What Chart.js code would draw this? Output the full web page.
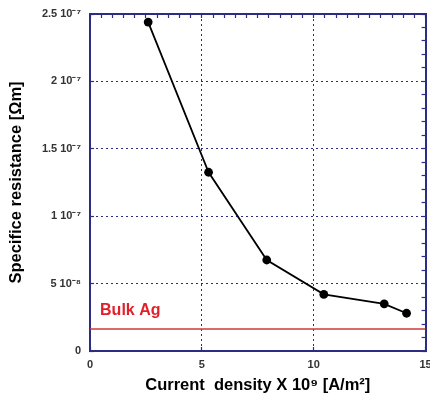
<!DOCTYPE html>
<html>
<head>
<meta charset="utf-8">
<script src="https://cdn.jsdelivr.net/npm/chart.js@4.4.1/dist/chart.umd.min.js"></script>
<style>
  html, body { margin: 0; padding: 0; background: #ffffff; }
  #wrap { width: 430px; height: 401px; }
</style>
</head>
<body>
<div id="wrap"><canvas id="c" width="430" height="401"></canvas></div>
<script>
// Data
const currentDensity = [2.6, 5.3, 7.9, 10.45, 13.15, 14.15];          // x 10^9 A/m^2
const resistance     = [2.44e-7, 1.326e-7, 6.75e-8, 4.2e-8, 3.5e-8, 2.8e-8]; // Ohm m
const bulkAgX = [0, 15];
const bulkAgY = [1.63e-8, 1.63e-8];
const bulkAgLabel = "Bulk Ag";
const xTickLabels = ["0", "5", "10", "15"];
const yTickLabels = ["0", "5 10\u207B\u2078", "1 10\u207B\u2077", "1.5 10\u207B\u2077", "2 10\u207B\u2077", "2.5 10\u207B\u2077"];
const xTitle = "Current  density X 10\u2079 [A/m\u00B2]";
const yTitle = "Specifice resistance [\u03A9m]";

const NAVY = "#2c2c84";
const TICKFONT = { family: '"Liberation Sans Narrow", "Liberation Sans", Arial, sans-serif', size: 11, weight: 'bold' };
const TITLEFONT = { family: '"Liberation Sans", Arial, sans-serif', size: 16.5, weight: 'bold' };

function majorIndex(v, step) {
  const k = Math.round(v / step);
  return Math.abs(v - k * step) < step * 1e-6 ? k : -1;
}

function zeroPad(scale) {
  scale.paddingLeft = 0; scale.paddingRight = 0;
  scale.paddingTop = 0; scale.paddingBottom = 0;
}

const gridColorX = (ctx) => {
  const v = ctx.tick ? ctx.tick.value : 0;
  const k = majorIndex(v, 5);
  return (k > 0 && k < 3) ? NAVY : 'rgba(0,0,0,0)';
};
const gridColorY = (ctx) => {
  const v = ctx.tick ? ctx.tick.value : 0;
  const k = majorIndex(v, 5e-8);
  return (k > 0 && k < 5) ? NAVY : 'rgba(0,0,0,0)';
};

const bulkLabelPlugin = {
  id: 'bulkLabel',
  afterDatasetsDraw(chart) {
    const xs = chart.scales.x, ys = chart.scales.y;
    const c = chart.ctx;
    c.save();
    c.font = 'bold 16px "Liberation Sans", Arial, sans-serif';
    c.fillStyle = '#e0202a';
    c.textAlign = 'left';
    c.textBaseline = 'middle';
    c.fillText(bulkAgLabel, xs.getPixelForValue(0.45), ys.getPixelForValue(3.0e-8));
    c.restore();
  }
};

new Chart(document.getElementById('c'), {
  type: 'scatter',
  data: {
    datasets: [
      {
        label: 'Specific resistance',
        data: currentDensity.map((x, i) => ({ x: x, y: resistance[i] })),
        showLine: true,
        borderColor: '#000000',
        backgroundColor: '#000000',
        borderWidth: 1.8,
        pointRadius: 4.4,
        pointBorderWidth: 0,
        tension: 0,
        xAxisID: 'x', yAxisID: 'y'
      },
      {
        label: bulkAgLabel,
        data: bulkAgX.map((x, i) => ({ x: x, y: bulkAgY[i] })),
        showLine: true,
        borderColor: '#cc3a3a',
        borderWidth: 1.5,
        pointRadius: 0,
        xAxisID: 'x', yAxisID: 'y'
      }
    ]
  },
  options: {
    responsive: false,
    animation: false,
    devicePixelRatio: 1,
    layout: { padding: { left: 0, right: 3, top: 14, bottom: 0 } },
    plugins: { legend: { display: false }, tooltip: { enabled: false } },
    scales: {
      x: {
        type: 'linear', position: 'bottom', min: 0, max: 15,
        ticks: {
          stepSize: 0.5, autoSkip: false, maxRotation: 0, color: '#333333', font: TICKFONT, padding: 11,
          callback: (v) => { const k = majorIndex(v, 5); return k >= 0 ? xTickLabels[k] : null; }
        },
        grid: { color: gridColorX, lineWidth: 1, tickLength: -4, tickColor: NAVY, tickWidth: 1.2 },
        border: { display: true, color: NAVY, width: 2, dash: [2, 3] },
        title: { display: true, text: xTitle, color: '#000000', font: TITLEFONT, padding: { top: 0, bottom: 6 } },
        afterFit: (s) => { s.height = 50; zeroPad(s); }
      },
      x2: {
        type: 'linear', position: 'top', min: 0, max: 15,
        ticks: { stepSize: 0.5, autoSkip: false, display: false },
        grid: { drawOnChartArea: false, tickLength: -4, tickColor: NAVY, tickWidth: 1.2 },
        border: { display: true, color: NAVY, width: 2 },
        afterFit: (s) => { s.height = 0; zeroPad(s); }
      },
      y: {
        type: 'linear', position: 'left', min: 0, max: 2.5e-7,
        ticks: {
          stepSize: 1e-8, autoSkip: false, color: '#333333', font: TICKFONT, padding: 13,
          callback: (v) => { const k = majorIndex(v, 5e-8); return k >= 0 ? yTickLabels[k] : null; }
        },
        grid: { color: gridColorY, lineWidth: 1, tickLength: -4, tickColor: NAVY, tickWidth: 1.2 },
        border: { display: true, color: NAVY, width: 2, dash: [2, 3] },
        title: { display: true, text: yTitle, color: '#000000', font: TITLEFONT, padding: { top: 7, bottom: 0 } },
        afterFit: (s) => { s.width = 90; zeroPad(s); }
      },
      y2: {
        type: 'linear', position: 'right', min: 0, max: 2.5e-7,
        ticks: { stepSize: 1e-8, autoSkip: false, display: false },
        grid: { drawOnChartArea: false, tickLength: -4, tickColor: NAVY, tickWidth: 1.2 },
        border: { display: true, color: NAVY, width: 2 },
        afterFit: (s) => { s.width = 0; zeroPad(s); }
      }
    }
  },
  plugins: [bulkLabelPlugin]
});
</script>
</body>
</html>
